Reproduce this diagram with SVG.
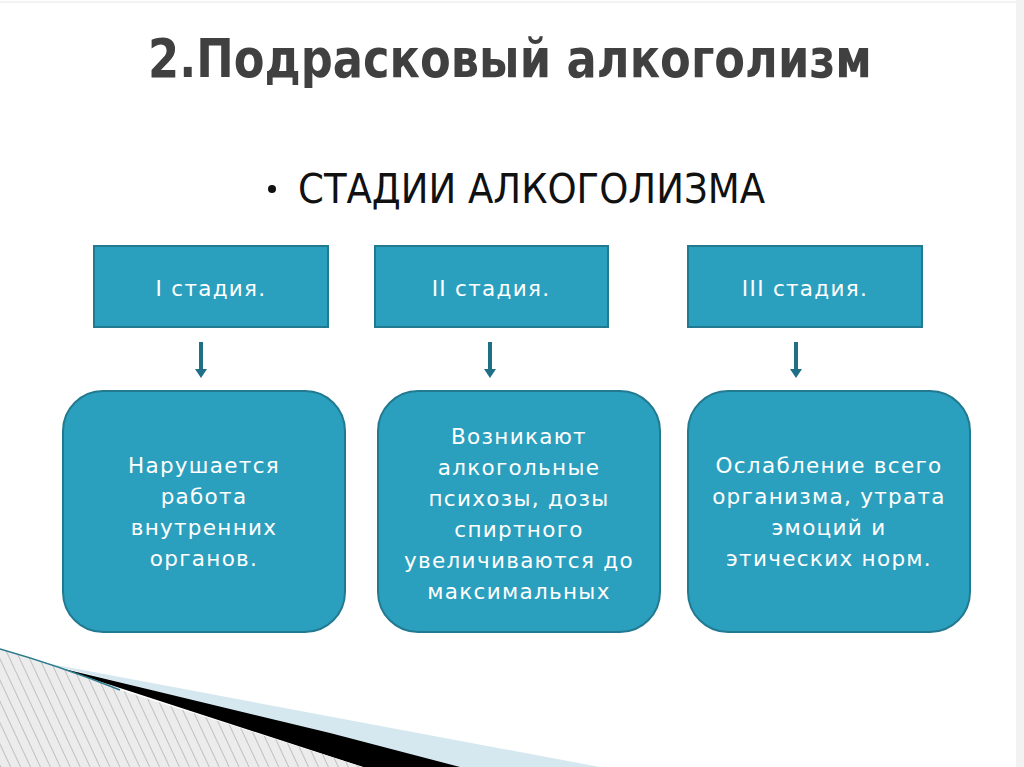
<svg xmlns="http://www.w3.org/2000/svg" width="1024" height="767" viewBox="0 0 1024 767">
<defs>
<style>
.box{fill:#2ba0be;stroke:#227a91;stroke-width:2}
.lbl{font-family:"DejaVu Sans","Open Sans",sans-serif;font-size:21.5px;fill:#ffffff;text-anchor:middle;letter-spacing:1.3px}
.arr{stroke:#1f6f87;stroke-width:4;fill:none}
.head{fill:#1f6f87}
</style>
<pattern id="hatch" width="9" height="9" patternUnits="userSpaceOnUse" patternTransform="rotate(-25)">
<rect width="9" height="9" fill="#ececec"/>
<line x1="0" y1="0" x2="0" y2="9" stroke="#8a8a8a" stroke-width="0.9"/>
</pattern>
</defs>
<rect width="1024" height="767" fill="#ffffff"/>
<rect x="1016" y="0" width="8" height="767" fill="#f2f2f2"/>
<line x1="0" y1="2" x2="1016" y2="2" stroke="#f3f3f3" stroke-width="2"/>

<g id="decoration">
<polygon points="40,662 600,767 455,767" fill="#d6e8ef"/>
<polygon points="0,649 60,668 330,733 460,767 363,767" fill="#000000"/>
<path d="M0,649 Q60,666 120,690 L363,767 L0,767 Z" fill="url(#hatch)"/>
<path d="M0,649 Q60,666 120,690" stroke="#2b7c8c" stroke-width="1.5" fill="none"/>
</g>

<g id="title">
<text x="510" y="77" text-anchor="middle" font-family="'DejaVu Sans Condensed','DejaVu Sans',sans-serif" font-stretch="condensed" font-weight="bold" font-size="54" fill="#404040" textLength="724" lengthAdjust="spacingAndGlyphs">2.Подрасковый алкоголизм</text>
</g>
<g id="subtitle">
<circle cx="272" cy="189" r="4" fill="#111111"/>
<text x="298" y="203" font-family="'DejaVu Sans Condensed','DejaVu Sans',sans-serif" font-stretch="condensed" font-size="40" fill="#111111" textLength="467" lengthAdjust="spacingAndGlyphs">СТАДИИ АЛКОГОЛИЗМА</text>
</g>

<g id="stage1">
<rect class="box" x="94" y="246" width="234" height="81"/>
<text class="lbl" x="211" y="296">I стадия.</text>
</g>
<g id="stage2">
<rect class="box" x="375" y="246" width="233" height="81"/>
<text class="lbl" x="491" y="296">II стадия.</text>
</g>
<g id="stage3">
<rect class="box" x="688" y="246" width="234" height="81"/>
<text class="lbl" x="805" y="296">III стадия.</text>
</g>

<g id="connectors">
<line class="arr" x1="201" y1="342" x2="201" y2="370"/>
<polygon class="head" points="195,369 207,369 201,378"/>
<line class="arr" x1="490" y1="342" x2="490" y2="370"/>
<polygon class="head" points="484,369 496,369 490,378"/>
<line class="arr" x1="796" y1="342" x2="796" y2="370"/>
<polygon class="head" points="790,369 802,369 796,378"/>
</g>

<g id="desc1">
<rect class="box" x="63" y="391" width="282" height="241" rx="40"/>
<text class="lbl" x="204" y="473">Нарушается</text>
<text class="lbl" x="204" y="504">работа</text>
<text class="lbl" x="204" y="535">внутренних</text>
<text class="lbl" x="204" y="566">органов.</text>
</g>
<g id="desc2">
<rect class="box" x="378" y="391" width="282" height="241" rx="40"/>
<text class="lbl" x="519" y="444">Возникают</text>
<text class="lbl" x="519" y="475">алкогольные</text>
<text class="lbl" x="519" y="506">психозы, дозы</text>
<text class="lbl" x="519" y="537">спиртного</text>
<text class="lbl" x="519" y="568">увеличиваются до</text>
<text class="lbl" x="519" y="599">максимальных</text>
</g>
<g id="desc3">
<rect class="box" x="688" y="391" width="282" height="241" rx="40"/>
<text class="lbl" x="829" y="473">Ослабление всего</text>
<text class="lbl" x="829" y="504">организма, утрата</text>
<text class="lbl" x="829" y="535">эмоций и</text>
<text class="lbl" x="829" y="566">этических норм.</text>
</g>
</svg>
